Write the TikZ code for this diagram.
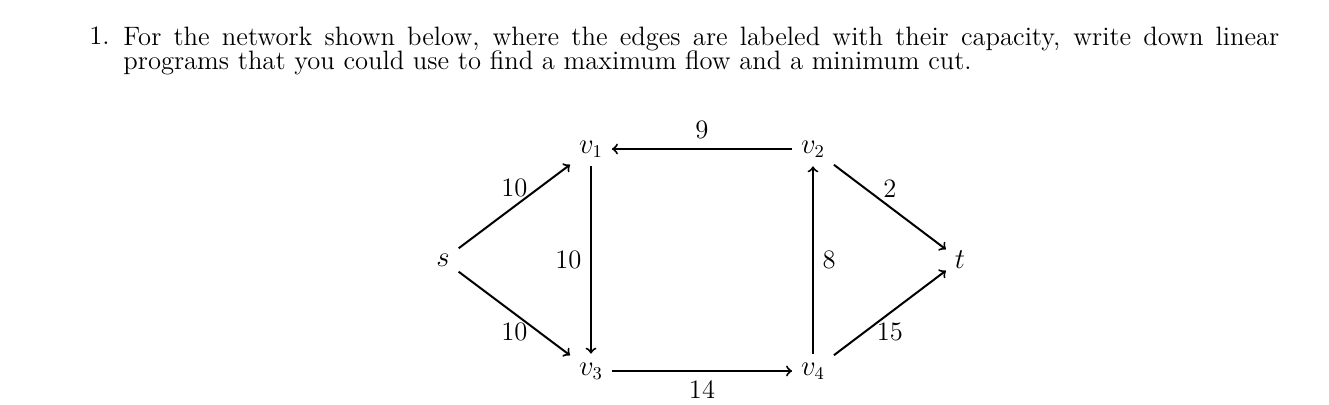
\documentclass[tikz,border=0pt]{standalone}
\begin{document}
\begin{tikzpicture}[x=0.5pt,y=-0.5pt,
  txt/.style={font=\fontsize{13.3}{12.2}\selectfont},
  vtx/.style={font=\fontsize{13.3}{15}\selectfont, inner sep=4.3pt},
  lbl/.style={font=\fontsize{13.3}{15}\selectfont, inner sep=4.3pt},
  edge/.style={->, line width=1pt}]
\useasboundingbox (0,0) rectangle (1329,405);
% question text
\node[txt, anchor=base east, inner sep=0] (num) at (110,45) {1.};
\node[txt, anchor=north west, inner sep=0, text width=578pt, align=justify] (para) at (123,26.5)
  {For the network shown below, where the edges are labeled with their capacity, write down linear programs that you could use to find a maximum flow and a minimum cut.};
% vertices
\node[vtx] (s)  at (443,260) {$s$};
\node[vtx] (v1) at (591,149) {$v_1$};
\node[vtx] (v2) at (813,149) {$v_2$};
\node[vtx] (v3) at (591,371) {$v_3$};
\node[vtx] (v4) at (813,371) {$v_4$};
\node[vtx] (t)  at (960,260) {$t$};
% edges
\draw[edge] (s) -- node[lbl, above] {10} (v1);
\draw[edge] (s) -- node[lbl, below] {10} (v3);
\draw[edge] (v1) -- node[lbl, left] {10} (v3);
\draw[edge] (v2) -- node[lbl, above] {9} (v1);
\draw[edge] (v3) -- node[lbl, below] {14} (v4);
\draw[edge] (v4) -- node[lbl, right] {8} (v2);
\draw[edge] (v2) -- node[lbl, above] {2} (t);
\draw[edge] (v4) -- node[lbl, below] {15} (t);
\end{tikzpicture}
\end{document}
